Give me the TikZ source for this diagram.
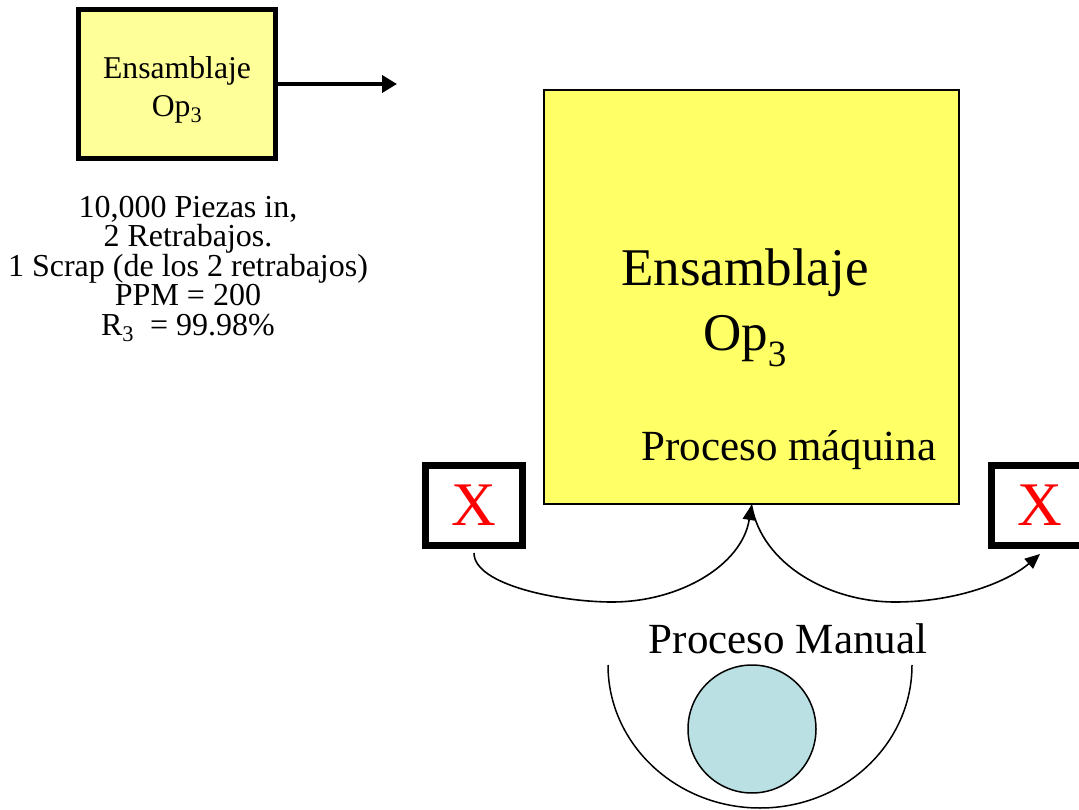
\documentclass[tikz,border=0pt]{standalone}
\usepackage{fontspec}
\setmainfont{Liberation Serif}
\usetikzlibrary{arrows.meta}
\definecolor{amarillo}{rgb}{1.0, 1.0, 0.6}
\definecolor{amarilloMaq}{rgb}{1.0, 1.0, 0.4}
\definecolor{celeste}{rgb}{0.73, 0.88, 0.89}

\begin{document}
\begin{tikzpicture}[x=1pt,y=-1pt,
  flecha/.style={-{Triangle[length=15pt,width=13pt]},line width=1.6pt},
  cajax/.style={draw,line width=7pt,minimum width=97pt,minimum height=80pt,text=red,font=\fontsize{62}{62}\selectfont}]
  \clip (0,0) rectangle (1079,810);
  \node[draw,line width=5pt,fill=amarillo,minimum width=197pt,minimum height=149pt] (op3) at (177,84) {};
  \node[align=center,font=\fontsize{31.7}{38}\selectfont] (tituloOp3) at (177,90) {Ensamblaje\\Op\textsubscript{3}};
  \coordinate (salida) at (397,84);
  \draw[-{Triangle[length=15pt,width=17pt]},line width=4pt] (op3) -- (salida);
  \node[align=center,font=\fontsize{32}{29.5}\selectfont] (datos) at (188,269) {10,000 Piezas in,\\2 Retrabajos.\\1 Scrap (de los 2 retrabajos)\\PPM = 200\\R\textsubscript{3} \ = 99.98\%};
  \node[draw,line width=2pt,fill=amarilloMaq,minimum width=415pt,minimum height=414pt] (maq) at (751.5,297) {};
  \node[align=center,font=\fontsize{53}{65}\selectfont] (tituloMaq) at (745,308) {Ensamblaje\\Op\textsubscript{3}};
  \node[anchor=base,font=\fontsize{43}{43}\selectfont] (procMaq) at (789,460) {Proceso máquina};
  \node[cajax] (xizq) at (474,505.5) {X};
  \node[cajax] (xder) at (1040,505.5) {X};
  \draw[flecha] ([yshift=-4pt]xizq.south) .. controls (474,585) and (560,602) .. (612,602) .. controls (680,602) and (742,565) .. (maq.south);
  \draw[flecha] (maq.south) .. controls (762,565) and (830,602) .. (895,602) .. controls (960,602) and (1010,580) .. ([yshift=-5pt]xder.south);
  \node[anchor=base,font=\fontsize{43}{43}\selectfont] (procMan) at (788,653) {Proceso Manual};
  \node[circle,draw,fill=celeste,line width=1.5pt,minimum size=128pt] (operario) at (752,729) {};
  \draw[line width=1.5pt] (608,665) arc[start angle=180,end angle=360,x radius=152pt,y radius=143pt];
\end{tikzpicture}
\end{document}
